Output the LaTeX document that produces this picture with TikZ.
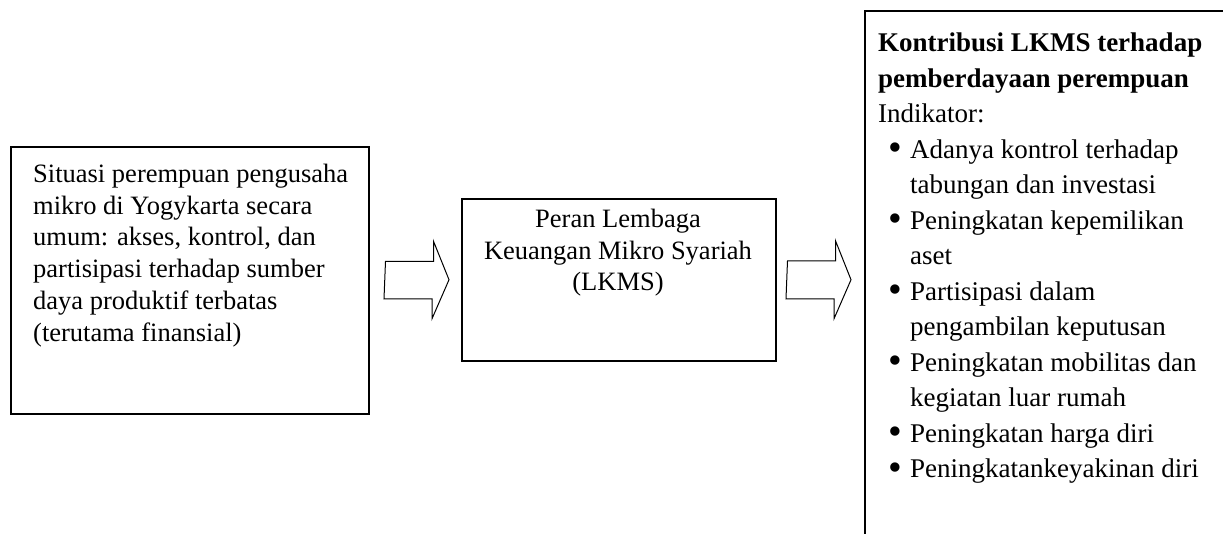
\documentclass[tikz,border=0pt]{standalone}
\usepackage{fontspec}
\usepackage{graphicx}
\setmainfont{Liberation Serif}
\usetikzlibrary{calc}
\newcommand{\bigbul}{\hspace*{10pt}\makebox[22pt][l]{\raisebox{-2.5pt}{\scalebox{1.45}{\textbullet}}}}
\begin{document}
\begin{tikzpicture}[x=1pt,y=-1pt,
  box/.style={draw, line width=1.5pt, inner sep=0pt, anchor=north west},
  txt/.style={inner sep=0pt},
  blockarrow/.style={draw, line width=1pt, line join=miter}]
\useasboundingbox (0,0) rectangle (1223,533);
% boxes
\node[box, minimum width=358pt, minimum height=267pt] (sbox) at (10,146) {};
\node[box, minimum width=314pt, minimum height=162pt] (pbox) at (461,198) {};
\begin{scope}
\clip (0,0) rectangle (1223,533);
\node[box, minimum width=420pt, minimum height=580pt] (kbox) at (864,10) {};
\end{scope}
% texts
\node[txt, anchor=north west, align=left, font=\fontsize{26.5}{31.7}\selectfont] (stxt) at (33,164)
 {Situasi perempuan pengusaha\\mikro di Yogykarta secara\\umum: akses, kontrol, dan\\partisipasi terhadap sumber\\daya produktif terbatas\\(terutama finansial)};
\node[txt, anchor=north, align=center, font=\fontsize{26.5}{31.7}\selectfont] (ptxt) at (618,209)
 {Peran Lembaga\\Keuangan Mikro Syariah\\(LKMS)};
\node[txt, anchor=north west, align=left, font=\fontsize{27}{35.5}\selectfont] (ktxt) at (878,33)
 {\textbf{Kontribusi LKMS terhadap}\\\textbf{pemberdayaan perempuan}\\Indikator:\\
 \bigbul Adanya kontrol terhadap\\
 \hspace*{32pt}tabungan dan investasi\\
 \bigbul Peningkatan kepemilikan\\
 \hspace*{32pt}aset\\
 \bigbul Partisipasi dalam\\
 \hspace*{32pt}pengambilan keputusan\\
 \bigbul Peningkatan mobilitas dan\\
 \hspace*{32pt}kegiatan luar rumah\\
 \bigbul Peningkatan harga diri\\
 \bigbul Peningkatankeyakinan diri};
% block arrows
\coordinate (a1s) at ($(sbox.east)+(16,0)$);
\coordinate (a1t) at ($(pbox.west)+(-12,0)$);
\draw[blockarrow] (a1s) ++(0,-19) -- ++(48,0) -- ++(0,-20) -- (a1t) -- ++(-17,39) -- ++(0,-20) -- ++(-48,0) -- cycle;
\coordinate (a2s) at ($(pbox.east)+(11,0)$);
\coordinate (a2t) at ($(kbox.west |- pbox.east)+(-13,0)$);
\draw[blockarrow] (a2s) ++(0,-19) -- ++(48,0) -- ++(0,-20) -- (a2t) -- ++(-17,39) -- ++(0,-20) -- ++(-48,0) -- cycle;
\end{tikzpicture}
\end{document}
